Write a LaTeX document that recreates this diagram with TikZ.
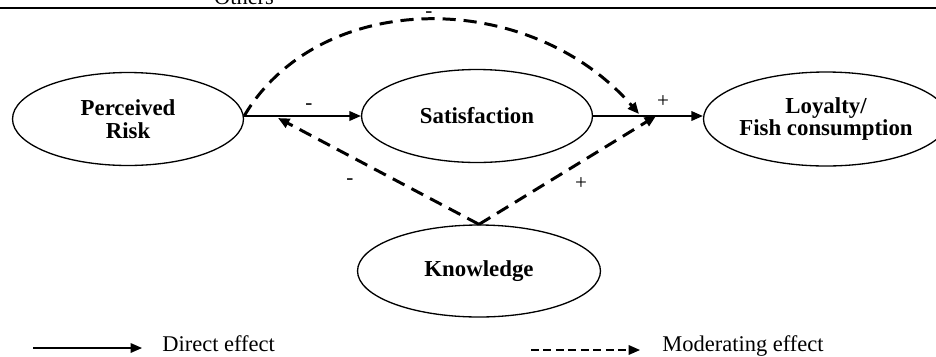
\documentclass[tikz,border=0pt]{standalone}
\usepackage{fontspec}
\setmainfont{Liberation Serif}
\usetikzlibrary{shapes.geometric,arrows.meta}

\tikzset{
  construct/.style={ellipse, draw, line width=0.75pt, minimum width=4.62cm,
    minimum height=1.86cm, inner sep=0pt, align=center,
    font=\fontsize{13}{12.8}\selectfont\bfseries},
  direct/.style={-{Triangle[length=6.5pt,width=5.5pt]}, line width=0.8pt},
  moderate/.style={-{Triangle[length=6.5pt,width=5.5pt]}, line width=1.7pt,
    dash pattern=on 7.5pt off 4.5pt},
  legdash/.style={-{Triangle[length=6.5pt,width=5.5pt]}, line width=0.8pt,
    dash pattern=on 4.5pt off 2.6pt},
  sign/.style={inner sep=0pt, font=\fontsize{12}{12}\selectfont},
  legtext/.style={inner sep=0pt, anchor=base west, font=\fontsize{12.8}{13}\selectfont}
}

\begin{document}
\begin{tikzpicture}[x=0.02cm, y=-0.02cm]
  \clip (0,0) rectangle (936,356); % page

  % caption cut off at the top
  \node[inner sep=0pt, anchor=base, font=\fontsize{12.8}{13}\selectfont] (others) at (244,4) {Others};
  \draw[line width=0.7pt] (0,8) -- (936,8); % rule

  % constructs
  \node[construct] (risk) at (128,119) {Perceived\\Risk};
  \node[construct] (sat) at (477,116) {Satisfaction};
  \node[construct, minimum width=4.32cm, minimum height=1.88cm] (loy) at (826,119) {Loyalty/\\Fish consumption};
  \node[construct, minimum width=4.86cm, minimum height=1.84cm] (kn) at (479,271) {Knowledge};

  %direct effects
  \draw[direct] (risk.east |- sat) -- (sat.west);
  \draw[direct] (sat.east) -- (sat.east -| loy.west);

  %moderating effects
  \coordinate (hitA) at (278,118);
  \coordinate (hitB) at (639,114);
  \coordinate (hitC) at (656,116);
  \draw[moderate] (risk.east |- sat) .. controls (320,-12) and (530,-12) .. (hitB);
  \draw[moderate] (kn.north) -- (hitA);
  \draw[moderate] (kn.north) -- (hitC);

  % signs
  \node[sign] (s1) at (309,107) {-};
  \node[sign] (s2) at (663,102) {+};
  \node[sign] (s3) at (429,15) {-};
  \node[sign] (s4) at (350,182) {-};
  \node[sign] (s5) at (581,184) {+};

  % legend
  \coordinate (d0) at (33,348);
  \coordinate (d1) at (142,348);
  \draw[direct] (d0) -- (d1);
  \node[legtext] (dtext) at (162,351) {Direct effect};
  \coordinate (m0) at (531,350);
  \coordinate (m1) at (640,350);
  \draw[legdash] (m0) -- (m1);
  \node[legtext] (mtext) at (662,351) {Moderating effect};
\end{tikzpicture}
\end{document}
